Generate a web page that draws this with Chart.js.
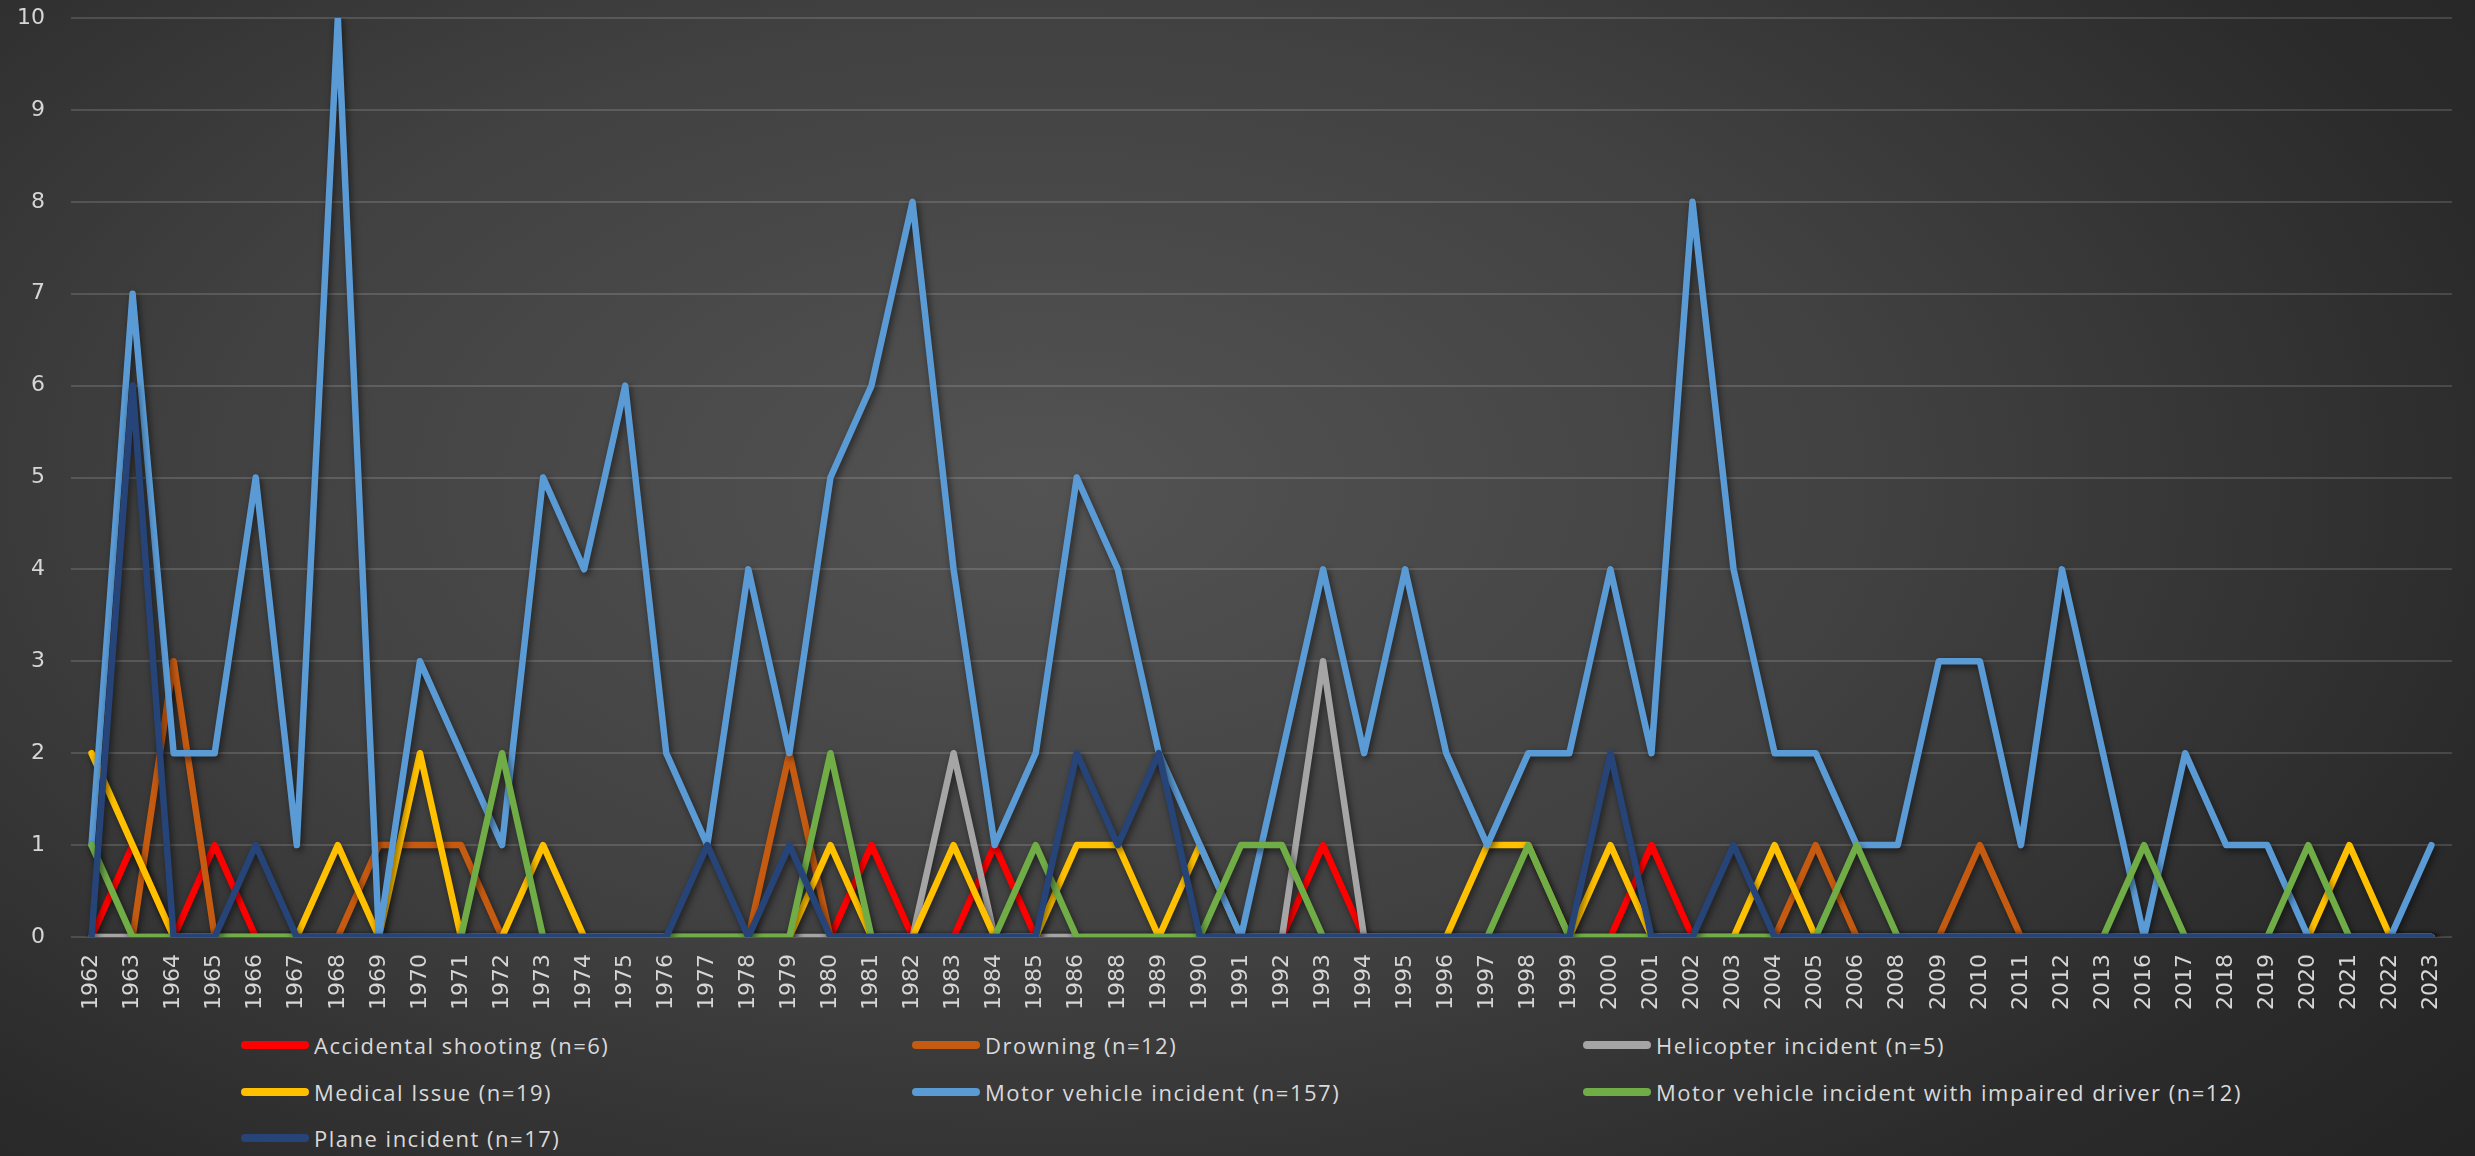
<!DOCTYPE html>
<html>
<head>
<meta charset="utf-8">
<script src="https://cdn.jsdelivr.net/npm/chart.js@4.4.1/dist/chart.umd.min.js"></script>
<style>
    html, body {
        margin: 0;
        padding: 0;
        width: 2475px;
        height: 1156px;
        overflow: hidden;
    }
    body {
        background: radial-gradient(ellipse 75% 90% at 42% 42%, #535353 0%, #414141 45%, #2b2b2b 80%, #242424 100%);
        position: relative;
    }
    #chartBox {
        position: absolute;
        left: 0;
        top: 0;
        width: 2475px;
        height: 1020px;
    }
    #legend {
        position: absolute;
        left: 241px;
        top: 1022px;
        display: grid;
        grid-template-columns: 671px 671px 671px;
        grid-auto-rows: 46.5px;
        font-family: "Open Sans", sans-serif;
        font-size: 22px;
        letter-spacing: 1.5px;
        color: #d9d9d9;
    }
    .item {
        display: flex;
        align-items: center;
        white-space: nowrap;
    }
    .swatch {
        width: 68px;
        height: 8px;
        border-radius: 4px;
        margin-right: 5px;
    }
</style>
</head>
<body>
<div id="chartBox"><canvas id="deathChart" width="2475" height="1020"></canvas></div>
<div id="legend"></div>
<script>
var years = ['1962', '1963', '1964', '1965', '1966', '1967', '1968', '1969', '1970', '1971',
    '1972', '1973', '1974', '1975', '1976', '1977', '1978', '1979', '1980', '1981',
    '1982', '1983', '1984', '1985', '1986', '1988', '1989', '1990', '1991', '1992',
    '1993', '1994', '1995', '1996', '1997', '1998', '1999', '2000', '2001', '2002',
    '2003', '2004', '2005', '2006', '2008', '2009', '2010', '2011', '2012', '2013',
    '2016', '2017', '2018', '2019', '2020', '2021', '2022', '2023'];

var shootingData = [0, 1, 0, 1, 0, 0, 0, 0, 0, 0,
    0, 0, 0, 0, 0, 0, 0, 0, 0, 1,
    0, 0, 1, 0, 0, 0, 0, 0, 0, 0,
    1, 0, 0, 0, 0, 0, 0, 0, 1, 0,
    0, 0, 0, 0, 0, 0, 0, 0, 0, 0,
    0, 0, 0, 0, 0, 0, 0, 0];
var drowningData = [0, 0, 3, 0, 0, 0, 0, 1, 1, 1,
    0, 0, 0, 0, 0, 0, 0, 2, 0, 0,
    0, 0, 0, 0, 0, 0, 0, 0, 0, 0,
    0, 0, 0, 0, 0, 0, 0, 0, 0, 0,
    0, 0, 1, 0, 0, 0, 1, 0, 0, 0,
    0, 0, 0, 0, 0, 0, 0, 0];
var helicopterData = [0, 0, 0, 0, 0, 0, 0, 0, 0, 0,
    0, 0, 0, 0, 0, 0, 0, 0, 0, 0,
    0, 2, 0, 0, 0, 0, 0, 0, 0, 0,
    3, 0, 0, 0, 0, 0, 0, 0, 0, 0,
    0, 0, 0, 0, 0, 0, 0, 0, 0, 0,
    0, 0, 0, 0, 0, 0, 0, 0];
var medicalData = [2, 1, 0, 0, 0, 0, 1, 0, 2, 0,
    0, 1, 0, 0, 0, 0, 0, 0, 1, 0,
    0, 1, 0, 0, 1, 1, 0, 1, 0, 0,
    0, 0, 0, 0, 1, 1, 0, 1, 0, 0,
    0, 1, 0, 0, 0, 0, 0, 0, 0, 0,
    0, 0, 0, 0, 0, 1, 0, 0];
var motorData = [1, 7, 2, 2, 5, 1, 10, 0, 3, 2,
    1, 5, 4, 6, 2, 1, 4, 2, 5, 6,
    8, 4, 1, 2, 5, 4, 2, 1, 0, 2,
    4, 2, 4, 2, 1, 2, 2, 4, 2, 8,
    4, 2, 2, 1, 1, 3, 3, 1, 4, 2,
    0, 2, 1, 1, 0, 0, 0, 1];
var impairedData = [1, 0, 0, 0, 0, 0, 0, 0, 0, 0,
    2, 0, 0, 0, 0, 0, 0, 0, 2, 0,
    0, 0, 0, 1, 0, 0, 0, 0, 1, 1,
    0, 0, 0, 0, 0, 1, 0, 0, 0, 0,
    0, 0, 0, 1, 0, 0, 0, 0, 0, 0,
    1, 0, 0, 0, 1, 0, 0, 0];
var planeData = [0, 6, 0, 0, 1, 0, 0, 0, 0, 0,
    0, 0, 0, 0, 0, 1, 0, 1, 0, 0,
    0, 0, 0, 0, 2, 1, 2, 0, 0, 0,
    0, 0, 0, 0, 0, 0, 0, 2, 0, 0,
    1, 0, 0, 0, 0, 0, 0, 0, 0, 0,
    0, 0, 0, 0, 0, 0, 0, 0];

var seriesNames = ['Accidental shooting (n=6)', 'Drowning (n=12)', 'Helicopter incident (n=5)',
    'Medical Issue (n=19)', 'Motor vehicle incident (n=157)',
    'Motor vehicle incident with impaired driver (n=12)', 'Plane incident (n=17)'];
var seriesColors = ['#ff0000', '#c55a11', '#a5a5a5', '#ffc000', '#5b9bd5', '#70ad47', '#264478'];
var seriesData = [shootingData, drowningData, helicopterData, medicalData, motorData, impairedData, planeData];

var datasets = [];
for (var i = 0; i < seriesData.length; i++) {
    datasets.push({
        label: seriesNames[i],
        data: seriesData[i],
        borderColor: seriesColors[i],
        backgroundColor: seriesColors[i],
        borderWidth: 6.5,
        borderJoinStyle: 'round',
        borderCapStyle: 'round',
        pointRadius: 0,
        tension: 0,
        // first series at the bottom, plane incident on top (like Excel)
        order: seriesData.length - 1 - i,
    });
}

// soft drop shadow under each line
const lineShadow = {
    id: 'lineShadow',
    beforeDatasetDraw(chart) {
        const ctx = chart.ctx;
        ctx.save();
        ctx.shadowColor = 'rgba(0, 0, 0, 0.55)';
        ctx.shadowBlur = 7;
        ctx.shadowOffsetX = 2;
        ctx.shadowOffsetY = 3;
    },
    afterDatasetDraw(chart) {
        chart.ctx.restore();
    }
};

const tickFont = { family: 'DejaVu Sans', size: 22 };

const config = {
    type: 'line',
    data: {
        labels: years,
        datasets: datasets,
    },
    options: {
        responsive: false,
        animation: false,
        devicePixelRatio: 1,
        layout: { padding: { top: 0, right: 19, bottom: 0, left: 0 } },
        plugins: {
            legend: { display: false },
            tooltip: { enabled: false },
        },
        scales: {
            x: {
                offset: true,
                grid: { display: false, drawTicks: false },
                border: { display: false },
                ticks: {
                    color: '#d6d6d6',
                    font: tickFont,
                    autoSkip: false,
                    minRotation: 90,
                    maxRotation: 90,
                    padding: 17,
                },
                afterFit(scale) { scale.height = 83; },
            },
            y: {
                min: 0,
                max: 10,
                grid: { color: 'rgba(255, 255, 255, 0.14)', lineWidth: 2, drawTicks: false },
                border: { display: false },
                ticks: {
                    stepSize: 1,
                    color: '#d6d6d6',
                    font: tickFont,
                    padding: 26,
                },
                afterFit(scale) {
                    scale.width = 71;
                    // keep the plot top close to the canvas edge
                    scale.paddingTop = 18;
                    scale.paddingBottom = 0;
                },
            },
        },
    },
    plugins: [lineShadow],
};

const deathChart = new Chart(document.getElementById('deathChart'), config);

// legend in three fixed columns, built from the chart's datasets
var legendBox = document.getElementById('legend');
for (var ds of deathChart.data.datasets) {
    var item = document.createElement('div');
    item.className = 'item';
    var swatch = document.createElement('span');
    swatch.className = 'swatch';
    swatch.style.background = ds.borderColor;
    var text = document.createElement('span');
    text.textContent = ds.label;
    item.appendChild(swatch);
    item.appendChild(text);
    legendBox.appendChild(item);
}
</script>
</body>
</html>
